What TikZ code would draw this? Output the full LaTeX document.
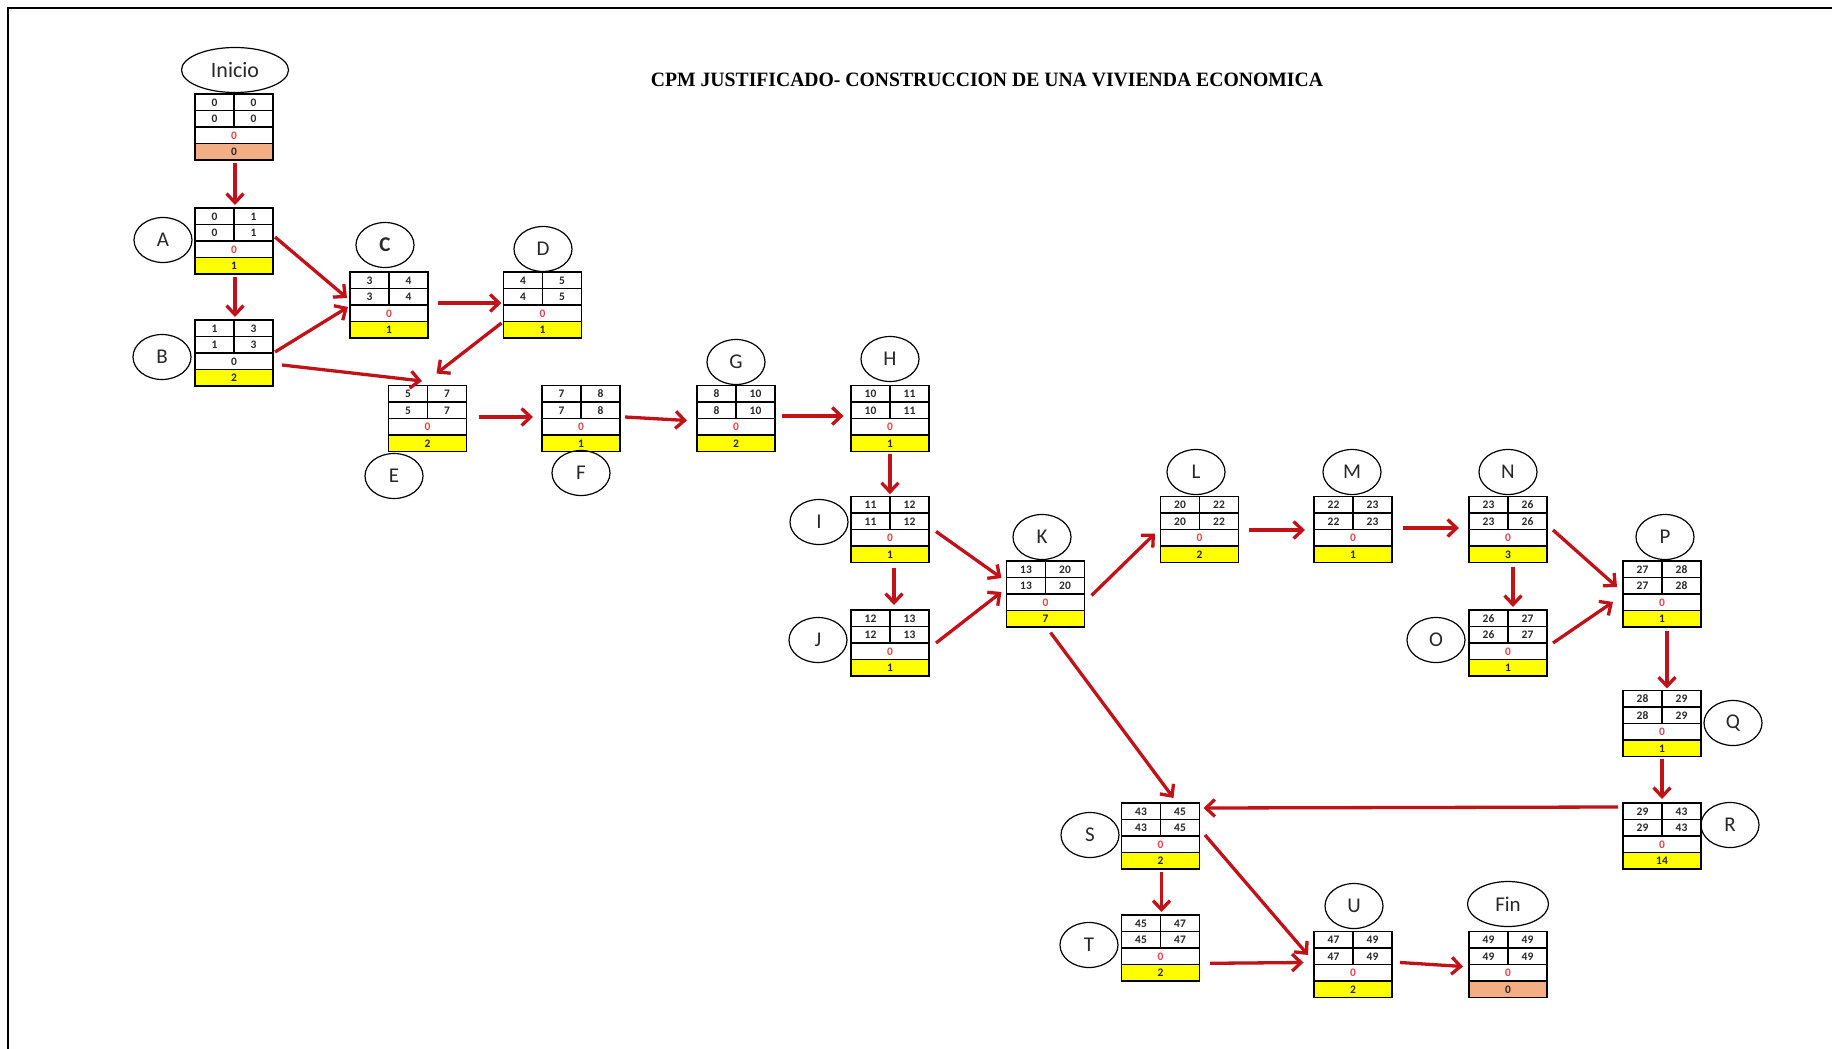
\documentclass[tikz,border=0pt]{standalone}
\usepackage{fontspec}
\setmainfont{Carlito}
\newfontfamily\titlefont{Liberation Serif}
\usetikzlibrary{arrows.meta,shapes.geometric,calc}

\definecolor{arrowred}{RGB}{192,18,24}
\definecolor{slackred}{RGB}{236,64,72}
\definecolor{valgray}{RGB}{40,40,40}
\definecolor{labelgray}{RGB}{40,40,40}
\definecolor{durfill}{RGB}{255,255,0}
\definecolor{endfill}{RGB}{244,174,132}

% One activity box: ES|EF, LS|LF, slack, duration.
% #1 style of the slack figure, #2 name, #3 x of centre, #4 y of top edge,
% #5 start, #6 finish, #7 duration, #8 fill of the duration row
\newcommand\cpmbox[8][cpmslack]{%
  \fill[#8] ({#3-39},{#4+49.5}) rectangle ({#3+39},{#4+66});
  \draw[cpmrule] ({#3-39},{#4+16.5}) -- ({#3+39},{#4+16.5})
     ({#3-39},{#4+33}) -- ({#3+39},{#4+33})
     ({#3-39},{#4+49.5}) -- ({#3+39},{#4+49.5})
     (#3,#4) -- (#3,{#4+33});
  \node[cpmval] (#2es) at ({#3-19.5},{#4+8.5}) {#5};
  \node[cpmval] (#2ef) at ({#3+19.5},{#4+8.5}) {#6};
  \node[cpmval] (#2ls) at ({#3-19.5},{#4+25}) {#5};
  \node[cpmval] (#2lf) at ({#3+19.5},{#4+25}) {#6};
  \node[#1] (#2sl) at (#3,{#4+41.5}) {0};
  \node[cpmval] (#2du) at (#3,{#4+58}) {#7};
  \node[cpmframe] (#2) at (#3,{#4+33}) {};
}

\tikzset{
  cpmframe/.style={draw=black, line width=1.9pt, minimum width=78pt,
    minimum height=66pt, inner sep=0pt, outer sep=0pt},
  cpmrule/.style={line width=1.3pt, draw=black},
  cpmval/.style={font=\bfseries\fontsize{11.5}{11.5}\selectfont, text=valgray, inner sep=0pt},
  cpmslack/.style={cpmval, text=slackred},
  cpmslackdark/.style={cpmval},
  actlabel/.style={ellipse, draw=black, line width=1.2pt, minimum width=58pt,
    minimum height=45pt, inner sep=0pt, text=labelgray,
    font=\fontsize{21}{21}\selectfont},
  endlabel/.style={actlabel, minimum width=81pt, minimum height=45pt},
  critarrow/.style={draw=arrowred, line width=3.3pt,
    -{Straight Barb[length=9pt,width=17pt]}},
}

\begin{document}
\begin{tikzpicture}[x=1pt,y=-1pt]
\useasboundingbox (0,0) rectangle (1832,1049);
\fill[white] (0,0) rectangle (1832,1049);
\draw[line width=2.5pt] (8,1049) -- (8,8) -- (1832,8);

\node[inner sep=0pt] (title) at (987,79.5)
  {\resizebox{672pt}{13.5pt}{\titlefont\bfseries CPM JUSTIFICADO- CONSTRUCCION DE UNA VIVIENDA ECONOMICA}};

% activity boxes
\cpmbox{Inicio}{234}{94}{0}{0}{0}{endfill}
\cpmbox{A}{234}{208}{0}{1}{1}{durfill}
\cpmbox[cpmslackdark]{B}{234}{320}{1}{3}{2}{durfill}
\cpmbox{C}{389}{272}{3}{4}{1}{durfill}
\cpmbox{D}{542.5}{272}{4}{5}{1}{durfill}
\cpmbox{E}{427.5}{385.5}{5}{7}{2}{durfill}
\cpmbox{F}{581}{385.5}{7}{8}{1}{durfill}
\cpmbox{G}{736}{385.5}{8}{10}{2}{durfill}
\cpmbox{H}{890}{385.5}{10}{11}{1}{durfill}
\cpmbox{I}{890}{496.5}{11}{12}{1}{durfill}
\cpmbox{J}{890}{610}{12}{13}{1}{durfill}
\cpmbox{K}{1045.5}{561}{13}{20}{7}{durfill}
\cpmbox{L}{1199.5}{496.5}{20}{22}{2}{durfill}
\cpmbox{M}{1353}{496.5}{22}{23}{1}{durfill}
\cpmbox{N}{1508}{496.5}{23}{26}{3}{durfill}
\cpmbox{O}{1508}{610}{26}{27}{1}{durfill}
\cpmbox{P}{1662}{561}{27}{28}{1}{durfill}
\cpmbox{Q}{1662}{690.5}{28}{29}{1}{durfill}
\cpmbox{R}{1662}{803}{29}{43}{14}{durfill}
\cpmbox{S}{1160.5}{803}{43}{45}{2}{durfill}
\cpmbox{T}{1160.5}{915}{45}{47}{2}{durfill}
\cpmbox{U}{1353}{931.5}{47}{49}{2}{durfill}
\cpmbox{Fin}{1508}{931.5}{49}{49}{0}{endfill}

% activity labels
\node[endlabel, minimum width=107pt, font=\fontsize{22}{22}\selectfont] (lInicio) at (235,70) {Inicio};
\node[actlabel] (lA) at (163,240) {A};
\node[actlabel] (lB) at (162,357) {B};
\node[actlabel, font=\bfseries\fontsize{21}{21}\selectfont] (lC) at (385,245) {C};
\node[actlabel] (lD) at (543,249) {D};
\node[actlabel] (lE) at (394,476) {E};
\node[actlabel] (lF) at (581,473) {F};
\node[actlabel] (lG) at (736,362) {G};
\node[actlabel] (lH) at (890,359) {H};
\node[actlabel] (lI) at (819,522) {I};
\node[actlabel] (lJ) at (818,640) {J};
\node[actlabel] (lK) at (1042,537) {K};
\node[actlabel] (lL) at (1196,472) {L};
\node[actlabel] (lM) at (1352,472) {M};
\node[actlabel] (lN) at (1508,472) {N};
\node[actlabel] (lO) at (1436,640) {O};
\node[actlabel] (lP) at (1665,537) {P};
\node[actlabel] (lQ) at (1733,723) {Q};
\node[actlabel] (lR) at (1730,825) {R};
\node[actlabel] (lS) at (1090,835) {S};
\node[actlabel] (lT) at (1089,945) {T};
\node[actlabel] (lU) at (1354,906) {U};
\node[endlabel] (lFin) at (1508,904) {Fin};

% precedence arrows
\draw[critarrow] ($(Inicio.south)+(1,3)$) -- ($(A.north)+(1,-3)$);
\draw[critarrow] ($(A.south)+(1,3)$) -- ($(B.north)+(1,-3)$);
\draw[critarrow] ($(A.east)+(2,-4)$) -- ($(C.west)+(-3,-7)$);
\draw[critarrow] ($(B.east)+(2,-1)$) -- ($(C.west)+(-2,2)$);
\draw[critarrow] ($(B.east)+(9,12)$) -- ($(E.north)+(-5.5,-4.5)$);
\draw[critarrow] ($(C.east)+(10,-2)$) -- ($(D.west)+(-2,-2)$);
\draw[critarrow] ($(D.south west)+(-2,-15)$) -- ($(E.north)+(9,-12)$);
\draw[critarrow] ($(E.east)+(12,-1.5)$) -- ($(F.west)+(-9,-1.5)$);
\draw[critarrow] ($(F.east)+(5,-1.5)$) -- ($(G.west)+(-10,2)$);
\draw[critarrow] ($(G.east)+(6.6,-2.5)$) -- ($(H.west)+(-7.4,-2.5)$);
\draw[critarrow] ($(H.south)+(0,2)$) -- ($(I.north)+(0,-2.3)$);
\draw[critarrow] ($(I.east)+(7,2)$) -- ($(K.west)+(-5,-16)$);
\draw[critarrow] ($(I.south)+(4,5)$) -- ($(J.north)+(4,-5)$);
\draw[critarrow] ($(J.east)+(7,0)$) -- ($(K.west)+(-5,-2)$);
\draw[critarrow] ($(K.east)+(7,1.5)$) -- ($(L.west)+(-5.5,4)$);
\draw[critarrow] ($(L.east)+(10,0.5)$) -- ($(M.west)+(-9,0.5)$);
\draw[critarrow] ($(M.east)+(11,-1.5)$) -- ($(N.west)+(-10,-1.5)$);
\draw[critarrow] ($(N.east)+(6,0.5)$) -- ($(P.west)+(-6,-7)$);
\draw[critarrow] ($(N.south)+(5,4)$) -- ($(O.north)+(5,-3)$);
\draw[critarrow] ($(O.east)+(6,0)$) -- ($(P.west)+(-10,8)$);
\draw[critarrow] ($(P.south)+(5,3.5)$) -- ($(Q.north)+(5,-2)$);
\draw[critarrow] ($(Q.south)+(0,2)$) -- ($(R.north)+(0,-4)$);
\draw[critarrow] ($(R.north west)+(-5,4)$) -- ($(S.north east)+(4,5)$);
\draw[critarrow] ($(K.south)+(5,5.5)$) -- ($(S.north)+(13,-5)$);
\draw[critarrow] ($(S.north east)+(5.5,32)$) -- ($(U.west)+(-6,-9.5)$);
\draw[critarrow] ($(S.south)+(1,3)$) -- ($(T.north)+(1,-3)$);
\draw[critarrow] ($(T.east)+(10.5,15.3)$) -- ($(U.west)+(-10.5,-2)$);
\draw[critarrow] ($(U.east)+(8,-2)$) -- ($(Fin.west)+(-6,2)$);
\end{tikzpicture}
\end{document}
